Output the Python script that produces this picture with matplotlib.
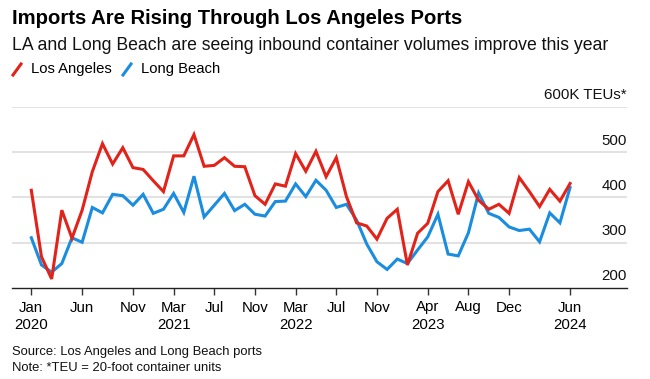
import matplotlib
matplotlib.use("Agg")
import matplotlib.pyplot as plt
from matplotlib.lines import Line2D
import matplotlib.transforms as mtransforms
import numpy as np

plt.rcParams["font.family"] = ["Liberation Sans", "DejaVu Sans"]

# Monthly inbound loaded TEUs (thousands), Jan 2020 - Jun 2024
los_angeles = [416, 269, 220, 372, 310, 372, 457, 519, 474, 510, 466, 462,
               437, 413, 492, 492, 539, 469, 471, 488, 469, 468, 404, 385,
               430, 425, 497, 458, 502, 446, 488, 402, 344, 337, 308, 354,
               374, 251, 321, 343, 413, 437, 363, 435, 394, 374, 385, 365,
               444, 413, 380, 418, 392, 431]
long_beach = [311, 251, 235, 254, 311, 301, 378, 366, 407, 404, 383, 407,
              365, 374, 409, 367, 447, 357, 383, 409, 371, 385, 363, 359,
              391, 392, 430, 402, 438, 416, 378, 385, 350, 297, 258, 241,
              264, 254, 284, 313, 363, 275, 271, 322, 410, 365, 356, 335,
              327, 330, 302, 366, 344, 422]
months = np.arange(len(los_angeles))

tick_pos = [0, 5, 10, 14, 18, 22, 26, 30, 34, 39, 43, 47, 53]
tick_labels = ["Jan\n2020", "Jun", "Nov", "Mar\n2021", "Jul", "Nov",
               "Mar\n2022", "Jul", "Nov", "Apr\n2023", "Aug", "Dec",
               "Jun\n2024"]
y_levels = [300, 400, 500, 600]
y_labels = ["300", "400", "500", "600K TEUs*"]

RED = "#e2231a"
BLUE = "#1b8ddf"

W, H = 650, 379
fig = plt.figure(figsize=(6.5, 3.79), dpi=100)
ax = fig.add_axes([12 / W, 1 - 288 / H, 615 / W, 181 / H])

for v in y_levels:
    ax.axhline(v, color="#dddddd", lw=1.2, zorder=1)

ax.plot(months, long_beach, color=BLUE, lw=2.2, zorder=3, solid_joinstyle="miter")
ax.plot(months, los_angeles, color=RED, lw=2.2, zorder=4, solid_joinstyle="miter")

ax.set_xlim(-1.9, 58.6)
ax.set_ylim(200, 600)

for s in ["top", "right", "left"]:
    ax.spines[s].set_visible(False)
ax.spines["bottom"].set_color("#222222")
ax.spines["bottom"].set_linewidth(1.0)

ax.set_yticks([])
ax.set_xticks(tick_pos)
ax.set_xticklabels(tick_labels, fontsize=10.8, linespacing=1.3)
ax.tick_params(axis="x", length=5, width=1, color="#333333", pad=4)

# y labels sit above their gridlines at the right edge
trans = mtransforms.blended_transform_factory(ax.transAxes, ax.transData)
for v, lab in zip([200] + y_levels, ["200"] + y_labels):
    ax.text(1.0, v + 10, lab, transform=trans, ha="right", va="bottom",
            fontsize=10.8, color="#111111")

fig.text(12 / W, 1 - 18 / H, "Imports Are Rising Through Los Angeles Ports",
         fontsize=14.6, fontweight="bold", va="center", ha="left")
fig.text(12 / W, 1 - 45 / H,
         "LA and Long Beach are seeing inbound container volumes improve this year",
         fontsize=12.7, va="center", ha="left", color="#111111")

# legend
for x0, col, name in [(13, RED, "Los Angeles"), (123, BLUE, "Long Beach")]:
    fig.add_artist(Line2D([x0 / W, (x0 + 8) / W], [1 - 75 / H, 1 - 64 / H],
                          color=col, lw=2.2, transform=fig.transFigure))
    fig.text((x0 + 18) / W, 1 - 69 / H, name, fontsize=10.7, va="center", ha="left")

fig.text(12 / W, 1 - 352 / H, "Source: Los Angeles and Long Beach ports",
         fontsize=9.4, va="center", ha="left", color="#111111")
fig.text(12 / W, 1 - 368 / H, "Note: *TEU = 20-foot container units",
         fontsize=9.4, va="center", ha="left", color="#111111")

fig.savefig("out.png", dpi=100)
